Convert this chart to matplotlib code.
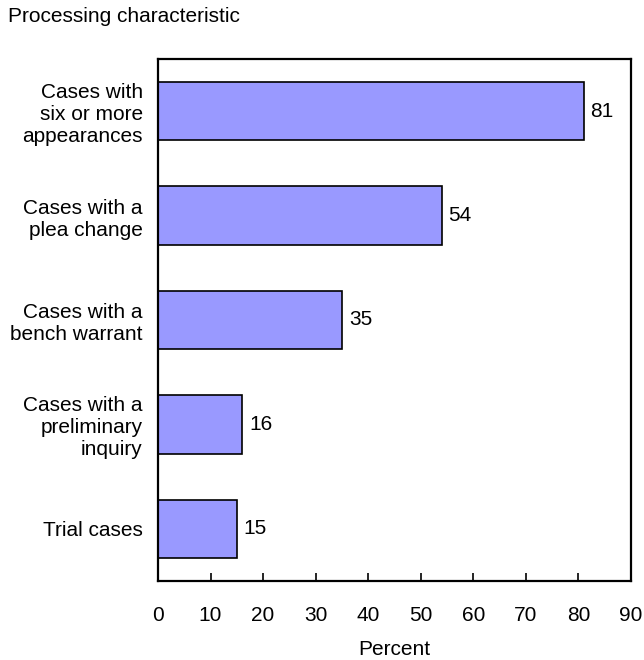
import matplotlib
matplotlib.use("Agg")
import matplotlib.pyplot as plt

plt.rcParams['font.family'] = ['Liberation Sans', 'DejaVu Sans']

categories = [
    "Cases with\nsix or more\nappearances",
    "Cases with a\nplea change",
    "Cases with a\nbench warrant",
    "Cases with a\npreliminary\ninquiry",
    "Trial cases",
]
percents = [81, 54, 35, 16, 15]
xticks = [0, 10, 20, 30, 40, 50, 60, 70, 80, 90]

fig = plt.figure(figsize=(6.44, 6.6), dpi=100)
ax = fig.add_axes([158/644, 1 - 581/660, (631 - 158)/644, (581 - 59)/660])

ypos = list(range(len(categories)))
ax.barh(ypos, percents, height=0.56, color="#9999FF", edgecolor="black", linewidth=1.2)

for y, v in zip(ypos, percents):
    ax.text(v + 1.3, y, str(v), va="center", ha="left", fontsize=15)

ax.set_ylim(len(categories) - 0.5, -0.5)
ax.set_xlim(0, 90)
ax.set_yticks(ypos)
ax.set_yticklabels(categories, fontsize=15, ha="right", linespacing=1.2)
ax.set_xticks(xticks)
ax.set_xticklabels([str(t) for t in xticks], fontsize=15)

ax.tick_params(axis="y", length=0, pad=11)
ax.tick_params(axis="x", direction="in", length=6, width=1.2, pad=18)

for s in ax.spines.values():
    s.set_linewidth(1.6)

ax.set_xlabel("Percent", fontsize=15, labelpad=11)
fig.text(8/644, 1 - 16/660, "Processing characteristic", fontsize=15, ha="left", va="center")

fig.savefig("out.png", dpi=100)
